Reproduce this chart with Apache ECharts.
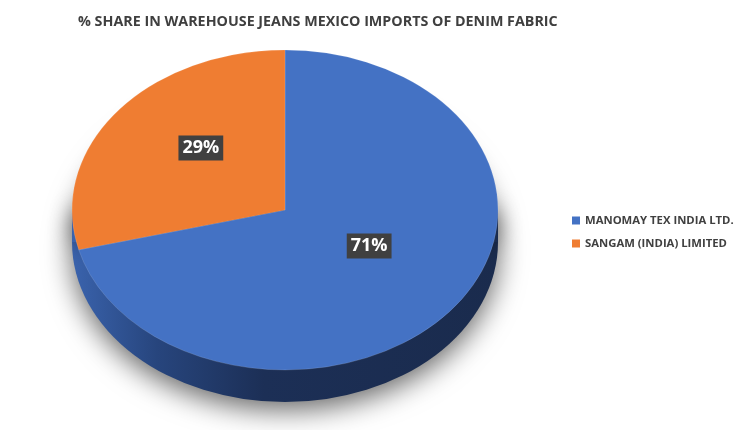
<!DOCTYPE html>
<html>
<head>
<meta charset="utf-8">
<script src="https://cdn.jsdelivr.net/npm/echarts@6/dist/echarts.min.js"></script>
<style>html,body{margin:0;padding:0;background:#fff}#c{width:750px;height:430px}</style>
</head>
<body>
<div id="c"></div>
<script>
const titleText = '% SHARE IN WAREHOUSE JEANS MEXICO IMPORTS OF DENIM FABRIC';
const categories = ['MANOMAY TEX INDIA LTD.', 'SANGAM (INDIA) LIMITED'];
const shares = [71, 29];
const colors = ['#4472c4', '#ef7d32'];

const CX = 285, CY = 210, RX = 213, RY = 160, DEPTH = 32;
const total = shares.reduce((a, b) => a + b, 0);

function sliceAngles(i) {
  let before = 0;
  for (let k = 0; k < i; k++) before += shares[k];
  const start = -Math.PI / 2 + 2 * Math.PI * before / total;
  const end = start + 2 * Math.PI * shares[i] / total;
  return [start, end];
}

const wallGradient = {
  type: 'linear', x: 0, y: 0, x2: 1, y2: 0,
  colorStops: [
    { offset: 0, color: '#3a63ad' },
    { offset: 0.2, color: '#27457d' },
    { offset: 0.45, color: '#1c2f56' },
    { offset: 1, color: '#1a2b4d' }
  ]
};

const wallSeries = {
  type: 'custom', name: 'wall', coordinateSystem: 'none', silent: true, z: 1,
  data: [0],
  renderItem: function () {
    return {
      type: 'group',
      children: [
        {
          type: 'circle', shape: { cx: CX, cy: CY + DEPTH, r: RX },
          originX: CX, originY: CY + DEPTH, scaleY: RY / RX,
          style: { fill: wallGradient, shadowBlur: 28, shadowColor: 'rgba(0,0,0,0.6)', shadowOffsetY: 8 }
        },
        {
          type: 'rect', shape: { x: CX - RX, y: CY, width: 2 * RX, height: DEPTH },
          style: { fill: wallGradient, shadowBlur: 22, shadowColor: 'rgba(0,0,0,0.4)', shadowOffsetX: 0 }
        }
      ]
    };
  }
};

const sliceSeries = categories.map(function (name, i) {
  return {
    type: 'custom', name: name, coordinateSystem: 'none', z: 2,
    itemStyle: { color: colors[i] },
    data: [shares[i]],
    renderItem: function (params, api) {
      const a = sliceAngles(i);
      const mid = (a[0] + a[1]) / 2;
      const lx = CX + RX * 0.5 * Math.cos(mid);
      const ly = CY + RY * 0.5 * Math.sin(mid) - 13;
      return {
        type: 'group',
        children: [
          {
            type: 'sector',
            shape: { cx: CX, cy: CY, r: RX, r0: 0, startAngle: a[0], endAngle: a[1], clockwise: true },
            originX: CX, originY: CY, scaleY: RY / RX,
            style: { fill: api.visual('color'), stroke: 'rgba(255,255,255,0.25)', lineWidth: 0.6 }
          },
          {
            type: 'text', x: lx, y: ly, z2: 10,
            style: {
              text: Math.round(api.value(0) / total * 100) + '%',
              fill: '#ffffff', font: 'bold 18px "Open Sans", sans-serif',
              align: 'center', verticalAlign: 'middle',
              backgroundColor: '#404040', padding: [4, 4, 3, 4],
              boxShadowBlur: 4, boxShadowColor: 'rgba(0,0,0,0.5)', boxShadowOffsetX: 2, boxShadowOffsetY: 2
            }
          }
        ]
      };
    }
  };
});

const chart = echarts.init(document.getElementById('c'), null, { renderer: 'canvas' });
chart.setOption({
  backgroundColor: '#ffffff',
  animation: false,
  title: {
    text: titleText, left: 73, top: 10,
    textStyle: { fontFamily: 'Open Sans', fontWeight: 'bold', fontSize: 14.3, color: '#3f3f3f' }
  },
  legend: {
    data: categories, orient: 'vertical', left: 567, top: 210,
    icon: 'rect', itemWidth: 8, itemHeight: 8, itemGap: 12,
    textStyle: { fontFamily: 'Open Sans', fontWeight: 'bold', fontSize: 11.3, color: '#404040' },
    selectedMode: false
  },
  series: [wallSeries].concat(sliceSeries)
});
</script>
</body>
</html>
